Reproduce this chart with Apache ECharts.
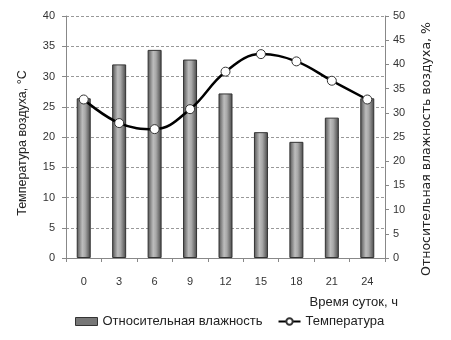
<!DOCTYPE html>
<html><head><meta charset="utf-8">
<script src="https://cdn.jsdelivr.net/npm/echarts@6/dist/echarts.min.js"></script>
<style>html,body{margin:0;padding:0;background:#fff}#c{width:451px;height:340px}</style>
</head><body><div id="c"></div>
<script>
var categories = ['0','3','6','9','12','15','18','21','24'];
var humidity = [33, 40, 43, 41, 34, 26, 24, 29, 33];
var temperature = [26.2, 22.3, 21.3, 24.6, 30.8, 33.7, 32.5, 29.3, 26.2];
var leftTicks = {min: 0, max: 40, interval: 5};
var rightTicks = {min: 0, max: 50, interval: 5};
var leftTitle = 'Температура воздуха, °С';
var rightTitle = 'Относительная влажность воздуха, %';
var xTitle = 'Время суток, ч';

var FONT = 'Liberation Sans';
var chart = echarts.init(document.getElementById('c'), null, {renderer: 'canvas'});
var barGrad = new echarts.graphic.LinearGradient(0, 0, 1, 0, [
  {offset: 0, color: '#505050'},
  {offset: 0.4, color: '#bdbdbd'},
  {offset: 0.6, color: '#a8a8a8'},
  {offset: 1, color: '#454545'}
]);
chart.setOption({
  animation: false,
  textStyle: {fontFamily: FONT},
  grid: {left: 66, right: 66, top: 16, bottom: 82, containLabel: false},
  legend: {
    left: 70, top: 310, itemGap: 15, itemWidth: 22, itemHeight: 8,
    textStyle: {fontFamily: FONT, fontSize: 13, color: '#222'},
    data: [
      {name: 'Относительная влажность', icon: 'rect', itemStyle: {color: '#777', borderColor: '#333', borderWidth: 1}},
      {name: 'Температура'}
    ]
  },
  xAxis: {
    type: 'category', data: categories, boundaryGap: true,
    axisLine: {lineStyle: {color: '#888'}},
    axisTick: {show: true, alignWithLabel: false, interval: 0, length: 4, lineStyle: {color: '#888'}},
    axisLabel: {color: '#333', fontSize: 11, margin: 18, fontFamily: FONT}
  },
  yAxis: [
    {
      type: 'value', min: leftTicks.min, max: leftTicks.max, interval: leftTicks.interval,
      axisLine: {show: true, lineStyle: {color: '#888'}},
      axisTick: {show: true, length: 4, lineStyle: {color: '#888'}},
      axisLabel: {color: '#333', fontSize: 11, margin: 11, fontFamily: FONT},
      splitLine: {show: true, lineStyle: {color: '#999', type: [3, 2], width: 1}}
    },
    {
      type: 'value', min: rightTicks.min, max: rightTicks.max, interval: rightTicks.interval, position: 'right',
      axisLine: {show: true, lineStyle: {color: '#888'}},
      axisTick: {show: true, length: 4, lineStyle: {color: '#888'}},
      axisLabel: {color: '#333', fontSize: 11, margin: 8, fontFamily: FONT},
      splitLine: {show: false}
    }
  ],
  graphic: [
    {
      type: 'text', x: 23, y: 143, rotation: Math.PI / 2,
      style: {text: leftTitle, font: '12.5px "Liberation Sans"', fill: '#222', textAlign: 'center', textVerticalAlign: 'middle'}
    },
    {
      type: 'text', x: 427, y: 149, rotation: Math.PI / 2,
      style: {text: rightTitle, font: '12.5px "DejaVu Sans"', fill: '#222', textAlign: 'center', textVerticalAlign: 'middle'}
    },
    {
      type: 'text', x: 398, y: 302,
      style: {text: xTitle, font: '13px "Liberation Sans"', fill: '#222', textAlign: 'right', textVerticalAlign: 'middle'}
    }
  ],
  series: [
    {
      name: 'Относительная влажность', type: 'bar', yAxisIndex: 1, data: humidity,
      barWidth: 14,
      itemStyle: {color: barGrad, borderColor: '#333', borderWidth: 1}
    },
    {
      name: 'Температура', type: 'line', yAxisIndex: 0, data: temperature, smooth: 0.4,
      symbol: 'circle', symbolSize: 9,
      lineStyle: {color: '#000', width: 2.5},
      itemStyle: {color: '#fff', borderColor: '#333', borderWidth: 1}
    }
  ]
});
</script></body></html>
